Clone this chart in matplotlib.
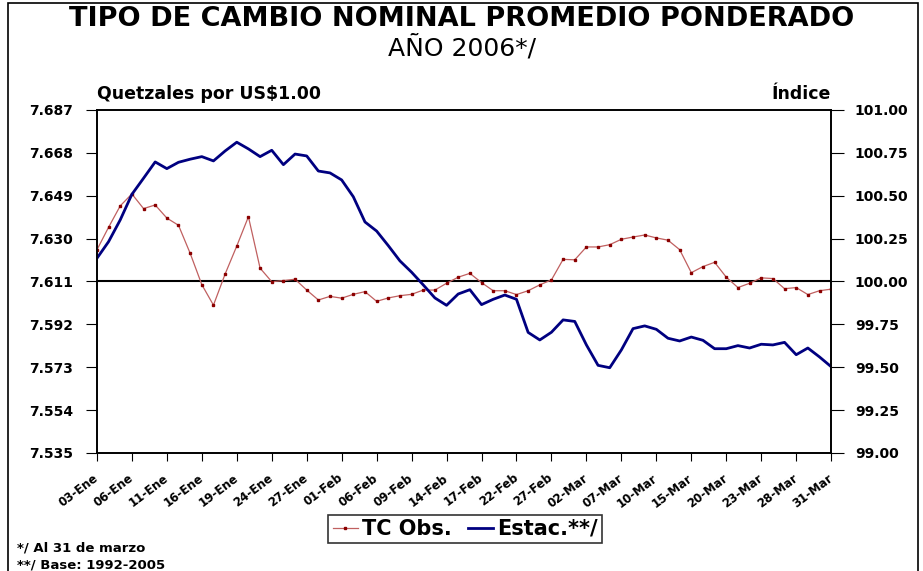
import numpy as np
import matplotlib.pyplot as plt
from matplotlib.patches import Rectangle

plt.rcParams['font.family'] = ['DejaVu Sans']

# business days 03-Ene .. 31-Mar 2006, label every 3rd day
tick_labels = ['03-Ene', '06-Ene', '11-Ene', '16-Ene', '19-Ene', '24-Ene', '27-Ene',
               '01-Feb', '06-Feb', '09-Feb', '14-Feb', '17-Feb', '22-Feb', '27-Feb',
               '02-Mar', '07-Mar', '10-Mar', '15-Mar', '20-Mar', '23-Mar', '28-Mar', '31-Mar']

# TC observado (quetzales por US$1.00)
tc_obs = [7.6250, 7.6350, 7.6445, 7.6498, 7.6433, 7.6449, 7.6391, 7.6359, 7.6235, 7.6096,
          7.6005, 7.6143, 7.6267, 7.6397, 7.6169, 7.6109, 7.6114, 7.6120, 7.6072, 7.6028,
          7.6044, 7.6036, 7.6053, 7.6065, 7.6022, 7.6037, 7.6047, 7.6053, 7.6072, 7.6072,
          7.6102, 7.6129, 7.6146, 7.6105, 7.6069, 7.6069, 7.6052, 7.6069, 7.6095, 7.6117,
          7.6208, 7.6206, 7.6263, 7.6263, 7.6273, 7.6297, 7.6307, 7.6316, 7.6303, 7.6293,
          7.6251, 7.6149, 7.6176, 7.6195, 7.6129, 7.6083, 7.6102, 7.6126, 7.6123, 7.6078,
          7.6083, 7.6052, 7.6069, 7.6076]

# indice estacional (base 1992-2005)
estac = [100.135, 100.232, 100.359, 100.508, 100.602, 100.697, 100.658, 100.695, 100.713, 100.728,
         100.703, 100.761, 100.812, 100.773, 100.728, 100.765, 100.681, 100.743, 100.732, 100.644,
         100.633, 100.592, 100.494, 100.347, 100.294, 100.209, 100.120, 100.054, 99.980, 99.904,
         99.861, 99.927, 99.952, 99.865, 99.896, 99.921, 99.896, 99.703, 99.659, 99.704,
         99.776, 99.767, 99.630, 99.511, 99.497, 99.601, 99.725, 99.741, 99.721, 99.669,
         99.653, 99.676, 99.657, 99.608, 99.608, 99.626, 99.612, 99.634, 99.630, 99.645,
         99.573, 99.612, 99.560, 99.503]

left_ticks = [7.535, 7.554, 7.573, 7.592, 7.611, 7.630, 7.649, 7.668, 7.687]
right_ticks = [99.00, 99.25, 99.50, 99.75, 100.00, 100.25, 100.50, 100.75, 101.00]

x = np.arange(len(tc_obs))

fig = plt.figure(figsize=(9.23, 5.71), dpi=100)
ax = fig.add_axes([0.105, 0.2067, 0.7955, 0.6007])
ax2 = ax.twinx()

# reference line at 7.611 / 100
ax.axhline(7.611, color='black', lw=1.5, zorder=1)

l1, = ax.plot(x, tc_obs, color='#c06060', lw=0.9, marker='s', ms=2,
              mfc='#8b0000', mec='#8b0000', zorder=3, label='TC Obs.')
l2, = ax2.plot(x, estac, color='#000080', lw=2.0, zorder=2, label='Estac.**/')

ax.set_xlim(0, len(x) - 1)
ax.set_ylim(7.535, 7.687)
ax2.set_ylim(99.0, 101.0)

ax.set_yticks(left_ticks)
ax.set_yticklabels(['%.3f' % v for v in left_ticks], fontsize=10, fontweight='bold')
ax2.set_yticks(right_ticks)
ax2.set_yticklabels(['%.2f' % v for v in right_ticks], fontsize=10, fontweight='bold')

ax.set_xticks(x[::3])
ax.set_xticklabels(tick_labels, rotation=37, ha='right', va='center', rotation_mode='anchor',
                   fontsize=8.5, fontweight='bold')

ax.tick_params(axis='y', direction='out', length=8, width=0.8, pad=9)
ax2.tick_params(axis='y', direction='out', length=9, width=0.8, pad=8)
ax.tick_params(axis='x', direction='out', length=6, width=0.8, pad=11)

for sp in ax.spines.values():
    sp.set_linewidth(1.2)
for sp in ax2.spines.values():
    sp.set_linewidth(1.2)

fig.text(0.5, 0.966, 'TIPO DE CAMBIO NOMINAL PROMEDIO PONDERADO', ha='center', va='center',
         fontsize=19.5, fontweight='bold')
fig.text(0.5, 0.917, 'AÑO 2006*/', ha='center', va='center', fontsize=18)
fig.text(0.105, 0.835, 'Quetzales por US$1.00', ha='left', va='center', fontsize=12.5, fontweight='bold')
fig.text(0.9, 0.835, 'Índice', ha='right', va='center', fontsize=12.5, fontweight='bold')
fig.text(0.018, 0.040, '*/ Al 31 de marzo', ha='left', va='center', fontsize=9.5, fontweight='bold')
fig.text(0.018, 0.011, '**/ Base: 1992-2005', ha='left', va='center', fontsize=9.5, fontweight='bold')

leg = fig.legend(handles=[l1, l2], loc='center', bbox_to_anchor=(0.504, 0.0736), ncol=2,
                 frameon=True, fancybox=False, edgecolor='black', handlelength=1.2,
                 handletextpad=0.2, columnspacing=0.8, borderpad=0.2,
                 prop={'size': 15, 'weight': 'bold'})
leg.get_frame().set_linewidth(1.2)

# outer chart border
fig.patches.append(Rectangle((0.009, -0.01), 0.986, 1.005, transform=fig.transFigure,
                             fill=False, edgecolor='black', lw=1.2))

fig.savefig('out.png', dpi=100)
